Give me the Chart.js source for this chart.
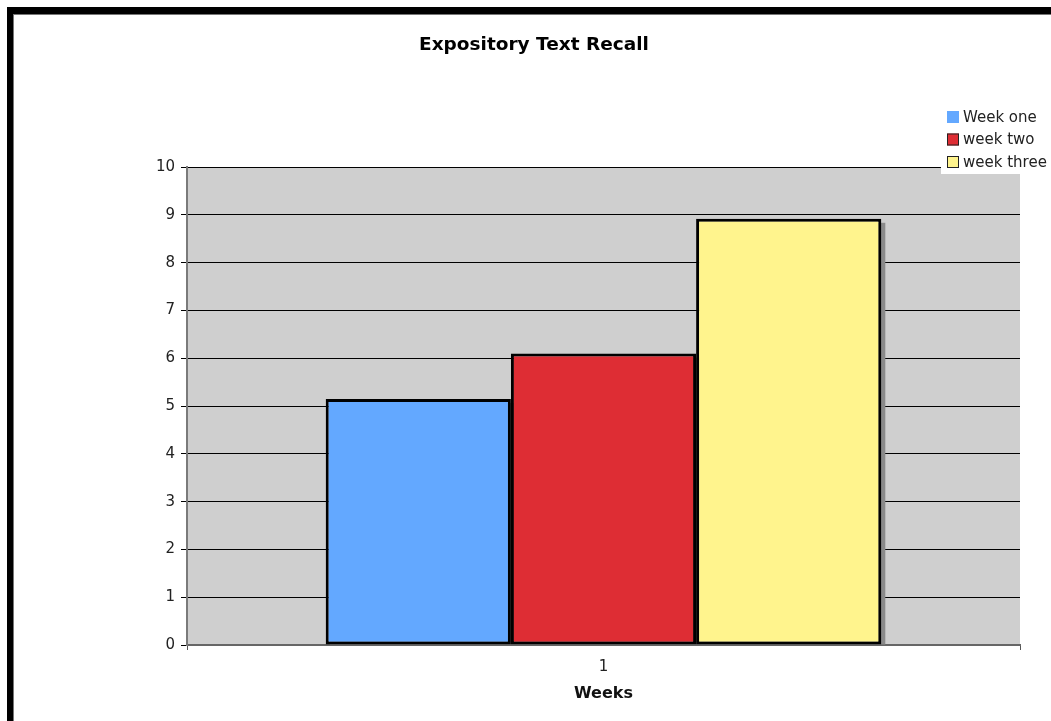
<!DOCTYPE html>
<html>
<head>
<meta charset="utf-8">
<script src="https://cdn.jsdelivr.net/npm/chart.js@4"></script>
<style>
  html, body { margin: 0; padding: 0; background: #fff; overflow: hidden; }
  #frame {
    position: absolute; left: 7px; top: 7px; width: 1100px; height: 800px;
    border-left: 6px solid #000; border-top: 7px solid #000;
    box-shadow: inset 1px 1px 0 #777;
  }
  #chart { position: absolute; left: 14px; top: 14px; }
</style>
</head>
<body>
<div id="frame"></div>
<canvas id="chart" width="1040" height="707"></canvas>
<script>
const categories = ['1'];
const seriesNames = ['Week one', 'week two', 'week three'];
const weekOne = [5.15];
const weekTwo = [6.1];
const weekThree = [8.92];
const seriesColors = ['#63a8ff', '#de2d34', '#fff48d'];

Chart.defaults.font.family = "'DejaVu Sans', Verdana, sans-serif";
Chart.defaults.color = '#222';

// gray plot background
const plotBg = {
  id: 'plotBg',
  beforeDraw(chart) {
    const a = chart.chartArea, ctx = chart.ctx;
    ctx.save();
    ctx.fillStyle = '#cfcfcf';
    ctx.fillRect(a.left, a.top, a.right - a.left, a.bottom - a.top);
    ctx.restore();
  }
};

// drop shadow behind the bars
const barShadow = {
  id: 'barShadow',
  beforeDatasetsDraw(chart) {
    const ctx = chart.ctx;
    ctx.save();
    ctx.fillStyle = '#8a8a8a';
    chart.data.datasets.forEach((ds, i) => {
      chart.getDatasetMeta(i).data.forEach(bar => {
        const w = bar.width;
        ctx.fillRect(bar.x - w / 2 + 4, bar.y + 4, w, bar.base - bar.y - 4);
      });
    });
    ctx.restore();
  }
};

// boxed legend at top right, like the original
const boxLegend = {
  id: 'boxLegend',
  afterDraw(chart) {
    const ctx = chart.ctx;
    const x = 927, y = 89, rowH = 22.5;
    ctx.save();
    ctx.fillStyle = '#fff';
    ctx.fillRect(x, y, 113, 71);
    ctx.font = "15px 'DejaVu Sans', Verdana, sans-serif";
    ctx.textBaseline = 'middle';
    chart.data.datasets.forEach((ds, i) => {
      const cy = y + 14 + i * rowH;
      ctx.fillStyle = ds.backgroundColor;
      ctx.fillRect(x + 6, cy - 6, 12, 12);
      if (i > 0) {
        ctx.strokeStyle = '#222';
        ctx.lineWidth = 1;
        ctx.strokeRect(x + 6.5, cy - 5.5, 11, 11);
      }
      ctx.fillStyle = '#222';
      ctx.fillText(ds.label, x + 22, cy + 1);
    });
    ctx.restore();
  }
};

new Chart(document.getElementById('chart').getContext('2d'), {
  type: 'bar',
  data: {
    labels: categories,
    datasets: [
      { label: seriesNames[0], data: weekOne, backgroundColor: seriesColors[0] },
      { label: seriesNames[1], data: weekTwo, backgroundColor: seriesColors[1] },
      { label: seriesNames[2], data: weekThree, backgroundColor: seriesColors[2] }
    ]
  },
  options: {
    responsive: false,
    animation: false,
    layout: { padding: { left: 34, right: 34, top: 0, bottom: 0 } },
    datasets: {
      bar: {
        borderColor: '#000',
        borderWidth: 3,
        borderSkipped: false,
        categoryPercentage: 0.667,
        barPercentage: 1.0
      }
    },
    plugins: {
      legend: { display: false },
      tooltip: { enabled: false },
      title: {
        display: true,
        text: 'Expository Text Recall',
        color: '#000',
        font: { size: 18.5, weight: 'bold' },
        padding: { top: 20, bottom: 111 }
      }
    },
    scales: {
      x: {
        grid: { drawOnChartArea: false, drawTicks: true, tickLength: 5, color: '#555' },
        border: { color: '#666', width: 2 },
        ticks: { font: { size: 15 }, padding: 8 },
        title: { display: true, text: 'Weeks', color: '#111', font: { size: 16, weight: 'bold' }, padding: { top: 4, bottom: 18 } },
        afterFit(scale) { scale.height = 76; }
      },
      y: {
        min: 0,
        max: 10,
        ticks: { stepSize: 1, font: { size: 15 }, padding: 6 },
        grid: { color: '#000', lineWidth: 1, tickLength: 6, tickColor: '#000' },
        border: { color: '#7a7a7a', width: 2 },
        afterFit(scale) { scale.width = 139; }
      }
    }
  },
  plugins: [plotBg, barShadow, boxLegend]
});
</script>
</body>
</html>
